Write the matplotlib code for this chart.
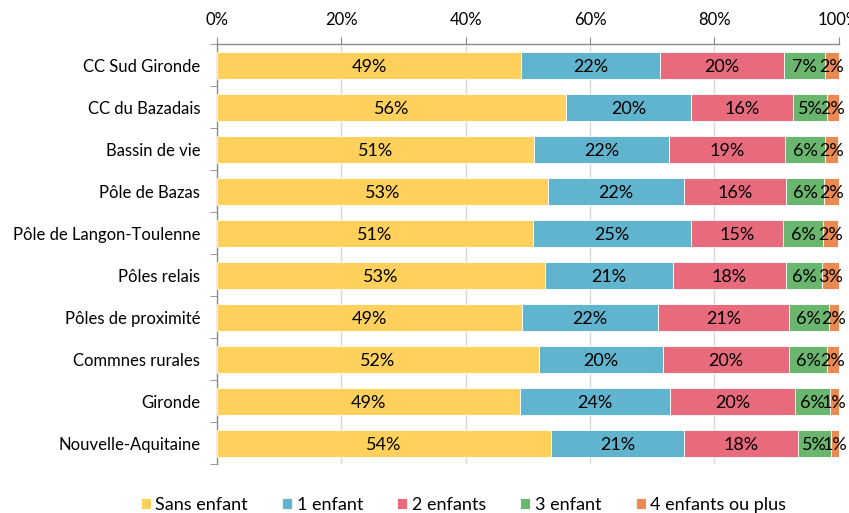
import matplotlib
matplotlib.use("Agg")
import matplotlib.pyplot as plt
import numpy as np

plt.rcParams['font.family'] = ['Lato', 'DejaVu Sans']

categories = ["CC Sud Gironde", "CC du Bazadais", "Bassin de vie", "Pôle de Bazas",
              "Pôle de Langon-Toulenne", "Pôles relais", "Pôles de proximité",
              "Commnes rurales", "Gironde", "Nouvelle-Aquitaine"]
series_names = ["Sans enfant", "1 enfant", "2 enfants", "3 enfant", "4 enfants ou plus"]
sans_enfant = [48.9, 56.1, 51.0, 53.2, 50.8, 52.8, 49.1, 51.8, 48.7, 53.7]
un_enfant = [22.4, 20.2, 21.7, 21.9, 25.4, 20.6, 21.8, 20.0, 24.1, 21.4]
deux_enfants = [19.9, 16.4, 18.7, 16.4, 14.9, 18.1, 21.1, 20.2, 20.2, 18.3]
trois_enfant = [6.6, 5.4, 6.4, 6.2, 6.4, 5.9, 6.4, 6.2, 5.6, 5.3]
quatre_plus = [2.2, 1.9, 2.1, 2.4, 2.4, 2.6, 1.6, 1.8, 1.4, 1.3]
xticks = [0, 20, 40, 60, 80, 100]
xtick_labels = ["0%", "20%", "40%", "60%", "80%", "100%"]

colors = ["#FFD15C", "#60B4CD", "#E86A7D", "#6BB66F", "#EA8A52"]
data = [sans_enfant, un_enfant, deux_enfants, trois_enfant, quatre_plus]

fig = plt.figure(figsize=(8.49, 5.13), dpi=100)
ax = fig.add_axes([0.2556, 0.0949, 0.7322, 0.8187])

y = np.arange(len(categories))
left = np.zeros(len(categories))
for vals, name, col in zip(data, series_names, colors):
    vals = np.array(vals)
    ax.barh(y, vals, left=left, height=0.63, color=col, label=name,
            edgecolor='white', linewidth=0.6, zorder=3)
    for yi, l, v in zip(y, left, vals):
        ax.text(l + v / 2, yi + 0.03, f"{int(round(v))}%", ha='center', va='center',
                fontsize=13, color='black', zorder=4)
    left += vals

ax.set_xlim(0, 100)
ax.set_ylim(len(categories) - 0.5, -0.5)
ax.xaxis.tick_top()
ax.set_xticks(xticks)
ax.set_xticklabels(xtick_labels, fontsize=12)
ax.tick_params(axis='x', length=5, color='#8c8c8c', pad=7)
ax.grid(axis='x', color='#d9d9d9', linewidth=1, zorder=0)

ax.set_yticks(y)
ax.set_yticklabels(categories, fontsize=12)
ax.tick_params(axis='y', which='major', length=0, pad=12)
ax.set_yticks(np.arange(-0.5, len(categories) + 0.5, 1), minor=True)
ax.tick_params(axis='y', which='minor', length=5, color='#8c8c8c')

for s in ['right', 'bottom']:
    ax.spines[s].set_visible(False)
for s in ['top', 'left']:
    ax.spines[s].set_color('#8c8c8c')
    ax.spines[s].set_linewidth(1)

fig.legend(loc='lower center', bbox_to_anchor=(0.546, -0.032), ncol=5,
           frameon=False, fontsize=13, handlelength=0.55, handleheight=0.55,
           handletextpad=0.25, columnspacing=1.9)

fig.savefig("out.png", dpi=100)
